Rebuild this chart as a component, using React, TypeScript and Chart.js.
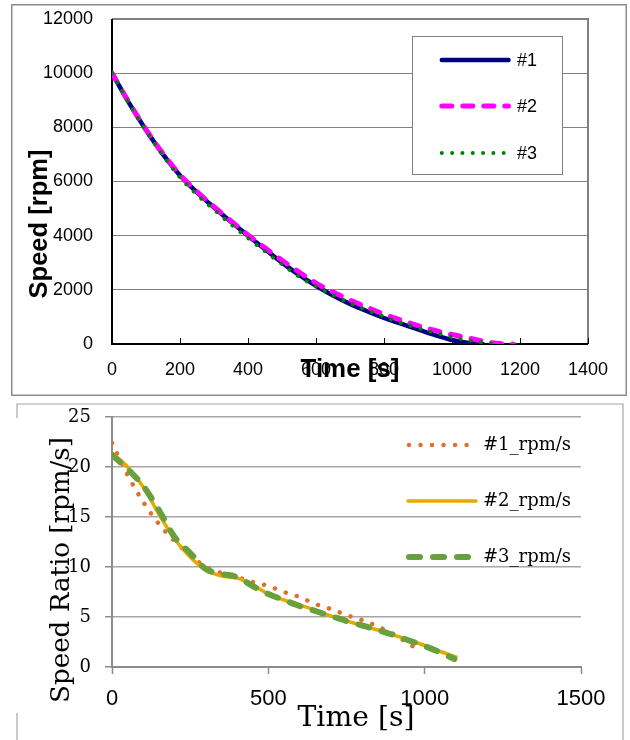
import React, { useEffect, useRef } from 'react';
import { Chart, registerables } from 'chart.js';

Chart.register(...registerables);

// ---------- Top chart: Speed [rpm] vs Time [s] ----------
const speedLabels = ['#1', '#2', '#3'];
const speedXTicks = [0, 200, 400, 600, 800, 1000, 1200, 1400];
const speedYTicks = [0, 2000, 4000, 6000, 8000, 10000, 12000];

const speedTimes1 = [0, 50, 100, 150, 200, 250, 300, 350, 400, 450, 500, 550, 600, 650, 700, 750, 800, 850, 900, 950, 1000, 1050, 1090];
const speedValues1 = [10000, 8900, 7900, 7000, 6225, 5600, 5040, 4510, 3995, 3495, 3005, 2550, 2150, 1790, 1480, 1210, 960, 750, 540, 330, 150, 35, 0];

const speedTimes2 = [0, 50, 100, 150, 200, 250, 300, 350, 400, 450, 500, 550, 600, 650, 700, 750, 800, 850, 900, 950, 1000, 1050, 1100, 1150, 1180];
const speedValues2 = [10000, 8920, 7920, 7030, 6250, 5630, 5070, 4540, 4030, 3550, 3090, 2660, 2250, 1920, 1625, 1360, 1100, 880, 680, 500, 350, 220, 80, 8, 0];

const speedTimes3 = [0, 50, 100, 150, 200, 250, 300, 350, 400, 450, 500, 550, 600, 650, 700, 750, 800, 850, 900, 950, 1000, 1050, 1100, 1141];
const speedValues3 = [10000, 8880, 7870, 6960, 6150, 5510, 4960, 4420, 3910, 3420, 2950, 2490, 2120, 1800, 1510, 1250, 1010, 780, 590, 420, 260, 130, 40, 0];

// ---------- Bottom chart: Speed Ratio [rpm/s] vs Time [s] ----------
const ratioLabels = ['#1_rpm/s', '#2_rpm/s', '#3_rpm/s'];
const ratioXTicks = [0, 500, 1000, 1500];
const ratioYTicks = [0, 5, 10, 15, 20, 25];

const ratioTimes1 = [0, 50, 100, 150, 200, 250, 300, 350, 400, 450, 500, 550, 600, 650, 700, 750, 800, 850, 900, 950, 990];
const ratioValues1 = [22.4, 19.2, 16.5, 14.3, 12.6, 11.2, 10.0, 9.4, 9.0, 8.5, 8.1, 7.5, 7.0, 6.3, 5.8, 5.2, 4.7, 4.05, 3.3, 2.3, 1.5];

const ratioTimes2 = [0, 50, 100, 150, 200, 250, 300, 350, 400, 450, 500, 550, 600, 650, 700, 750, 800, 850, 900, 950, 1000, 1050, 1100];
const ratioValues2 = [21.4, 20.0, 18.0, 15.3, 12.8, 11.0, 9.7, 9.1, 8.9, 8.2, 7.3, 6.7, 6.2, 5.7, 5.1, 4.6, 4.15, 3.7, 3.2, 2.7, 2.15, 1.55, 1.0];

const ratioTimes3 = [0, 50, 100, 150, 200, 250, 300, 350, 400, 450, 500, 550, 600, 650, 700, 750, 800, 850, 900, 950, 1000, 1050, 1095];
const ratioValues3 = [21.2, 19.8, 18.1, 15.7, 13.0, 11.4, 9.8, 9.3, 9.0, 8.1, 7.3, 6.7, 6.1, 5.6, 5.1, 4.6, 4.15, 3.7, 3.2, 2.65, 2.1, 1.45, 0.8];

// ---------- styles ----------
const SANS = "'Liberation Sans', Arial, sans-serif";
const SERIF = "'DejaVu Serif', serif";

const topStyles = [
  { color: '#000080', width: 4.5, dash: [] as number[] },
  { color: '#FF00FF', width: 5, dash: [10, 11] },
  { color: '#008000', width: 4, dash: [0.01, 10.3] },
];
const botStyles = [
  { color: '#E0702F', width: 4.5, dash: [0.01, 11.5] },
  { color: '#E6A900', width: 3.5, dash: [] as number[] },
  { color: '#68A03E', width: 6, dash: [11, 13] },
];

const zip = (xs: number[], ys: number[]) => xs.map((x, i) => ({ x, y: ys[i] }));

function fitFontSize(ctx: CanvasRenderingContext2D, text: string, weight: string, family: string, target: number) {
  ctx.font = `${weight} 100px ${family}`;
  const w = ctx.measureText(text).width;
  return (100 * target) / w;
}

function strokeSample(ctx: CanvasRenderingContext2D, st: { color: string; width: number; dash: number[] }, x1: number, x2: number, y: number) {
  ctx.save();
  ctx.strokeStyle = st.color;
  ctx.lineWidth = st.width;
  ctx.lineCap = 'round';
  ctx.setLineDash(st.dash);
  ctx.beginPath();
  ctx.moveTo(x1, y);
  ctx.lineTo(x2, y);
  ctx.stroke();
  ctx.restore();
}

const zeroPad = (s: any) => {
  s.paddingTop = 0;
  s.paddingBottom = 0;
  s.paddingLeft = 0;
  s.paddingRight = 0;
};

const topDecor = {
  id: 'topDecor',
  beforeDatasetsDraw(chart: any) {
    const ctx: CanvasRenderingContext2D = chart.ctx;
    const a = chart.chartArea;
    const xs = chart.scales.x;
    ctx.save();
    ctx.strokeStyle = '#8c8c8c';
    ctx.lineWidth = 1.5;
    ctx.strokeRect(11.75, 4.75, 614.5, 390.5);
    ctx.strokeStyle = '#808080';
    ctx.lineWidth = 2;
    ctx.beginPath();
    ctx.moveTo(a.left, a.top);
    ctx.lineTo(a.right, a.top);
    ctx.lineTo(a.right, a.bottom);
    ctx.stroke();
    ctx.strokeStyle = '#000';
    ctx.lineWidth = 1;
    for (const v of speedXTicks) {
      const px = Math.round(xs.getPixelForValue(v)) + 0.5;
      ctx.beginPath();
      ctx.moveTo(px, a.bottom - 6);
      ctx.lineTo(px, a.bottom);
      ctx.stroke();
    }
    ctx.lineWidth = 2;
    ctx.beginPath();
    ctx.moveTo(a.left, a.top);
    ctx.lineTo(a.left, a.bottom);
    ctx.lineTo(a.right, a.bottom);
    ctx.stroke();
    ctx.restore();
  },
  afterDatasetsDraw(chart: any) {
    const ctx: CanvasRenderingContext2D = chart.ctx;
    ctx.save();
    ctx.fillStyle = '#fff';
    ctx.fillRect(412, 36, 151, 139);
    ctx.strokeStyle = '#808080';
    ctx.lineWidth = 1;
    ctx.strokeRect(412.5, 36.5, 150, 138);
    const rows = [60, 106, 153];
    ctx.font = `18px ${SANS}`;
    ctx.textBaseline = 'middle';
    ctx.textAlign = 'left';
    speedLabels.forEach((lab, i) => {
      strokeSample(ctx, topStyles[i], 441.8, i === 2 ? 505 : 508.5, rows[i]);
      ctx.fillStyle = '#000';
      ctx.fillText(lab, 517, rows[i] + 1);
    });
    ctx.fillStyle = '#000';
    const ySize = fitFontSize(ctx, 'Speed [rpm]', 'bold', SANS, 149);
    ctx.font = `bold ${ySize}px ${SANS}`;
    ctx.textAlign = 'center';
    ctx.textBaseline = 'alphabetic';
    ctx.save();
    ctx.translate(47, 224);
    ctx.rotate(-Math.PI / 2);
    ctx.fillText('Speed [rpm]', 0, 0);
    ctx.restore();
    const xSize = fitFontSize(ctx, 'Time [s]', 'bold', SANS, 99);
    ctx.font = `bold ${xSize}px ${SANS}`;
    ctx.fillText('Time [s]', 350, 377);
    ctx.restore();
  },
};

const botDecor = {
  id: 'botDecor',
  beforeDatasetsDraw(chart: any) {
    const ctx: CanvasRenderingContext2D = chart.ctx;
    const h = chart.height;
    ctx.save();
    ctx.strokeStyle = '#a6a6a6';
    ctx.lineWidth = 1.2;
    ctx.beginPath();
    ctx.moveTo(17, 20);
    ctx.lineTo(17, 6);
    ctx.lineTo(623, 6);
    ctx.lineTo(623, h);
    ctx.moveTo(17, 315);
    ctx.lineTo(17, h);
    ctx.stroke();
    ctx.restore();
  },
  afterDatasetsDraw(chart: any) {
    const ctx: CanvasRenderingContext2D = chart.ctx;
    ctx.save();
    const rows = [47, 103, 159];
    ctx.font = `18px ${SERIF}`;
    ctx.textBaseline = 'middle';
    ctx.textAlign = 'left';
    ratioLabels.forEach((lab, i) => {
      const st = botStyles[i];
      const x2 = i === 0 ? 471 : i === 1 ? 476 : 470;
      strokeSample(ctx, st, i === 1 ? 408 : 409, x2, rows[i]);
      ctx.fillStyle = '#000';
      ctx.fillText(lab, 483, rows[i]);
    });
    ctx.fillStyle = '#000';
    ctx.textAlign = 'center';
    ctx.textBaseline = 'alphabetic';
    const ySize = fitFontSize(ctx, 'Speed Ratio [rpm/s]', 'normal', SERIF, 266);
    ctx.font = `${ySize}px ${SERIF}`;
    ctx.save();
    ctx.translate(69, 172);
    ctx.rotate(-Math.PI / 2);
    ctx.fillText('Speed Ratio [rpm/s]', 0, 0);
    ctx.restore();
    const xSize = fitFontSize(ctx, 'Time [s]', 'normal', SERIF, 117);
    ctx.font = `${xSize}px ${SERIF}`;
    ctx.fillText('Time [s]', 356, 328);
    ctx.restore();
  },
};

function lineDataset(label: string, xs: number[], ys: number[], st: { color: string; width: number; dash: number[] }, order: number) {
  return {
    label,
    data: zip(xs, ys),
    borderColor: st.color,
    backgroundColor: st.color,
    borderWidth: st.width,
    borderDash: st.dash,
    borderCapStyle: 'round' as const,
    borderJoinStyle: 'round' as const,
    pointRadius: 0,
    pointHoverRadius: 0,
    fill: false,
    cubicInterpolationMode: 'monotone' as const,
    order,
  };
}

function topConfig(): any {
  return {
    type: 'line',
    data: {
      datasets: [
        lineDataset(speedLabels[0], speedTimes1, speedValues1, topStyles[0], 3),
        lineDataset(speedLabels[1], speedTimes2, speedValues2, topStyles[1], 2),
        lineDataset(speedLabels[2], speedTimes3, speedValues3, topStyles[2], 1),
      ],
    },
    options: {
      responsive: false,
      animation: false,
      events: [],
      layout: { padding: { left: 0, top: 19, right: 42, bottom: 0 } },
      plugins: { legend: { display: false }, tooltip: { enabled: false } },
      scales: {
        x: {
          type: 'linear',
          min: 0,
          max: 1400,
          afterBuildTicks: (s: any) => { s.ticks = speedXTicks.map((v) => ({ value: v })); },
          afterFit: (s: any) => { s.height = 54; zeroPad(s); },
          grid: { display: false, drawTicks: false },
          border: { display: false },
          ticks: {
            autoSkip: false,
            maxRotation: 0,
            padding: 15,
            color: '#000',
            font: { family: SANS, size: 18 },
            callback: (v: any) => String(v),
          },
        },
        y: {
          type: 'linear',
          min: 0,
          max: 12000,
          afterBuildTicks: (s: any) => { s.ticks = speedYTicks.map((v) => ({ value: v })); },
          afterFit: (s: any) => { s.width = 112; zeroPad(s); },
          grid: { color: '#808080', lineWidth: 1, drawTicks: false },
          border: { display: false },
          ticks: {
            padding: 19,
            color: '#000',
            font: { family: SANS, size: 18 },
            callback: (v: any) => String(v),
          },
        },
      },
    },
    plugins: [topDecor],
  };
}

function botConfig(): any {
  return {
    type: 'line',
    data: {
      datasets: [
        lineDataset(ratioLabels[0], ratioTimes1, ratioValues1, botStyles[0], 3),
        lineDataset(ratioLabels[1], ratioTimes2, ratioValues2, botStyles[1], 2),
        lineDataset(ratioLabels[2], ratioTimes3, ratioValues3, botStyles[2], 1),
      ],
    },
    options: {
      responsive: false,
      animation: false,
      events: [],
      layout: { padding: { left: 0, top: 19, right: 49, bottom: 0 } },
      plugins: { legend: { display: false }, tooltip: { enabled: false } },
      scales: {
        x: {
          type: 'linear',
          min: 0,
          max: 1500,
          afterBuildTicks: (s: any) => { s.ticks = ratioXTicks.map((v) => ({ value: v })); },
          afterFit: (s: any) => { s.height = 73; zeroPad(s); },
          grid: { drawOnChartArea: false, drawTicks: true, tickLength: 7, tickColor: '#8c8c8c', tickWidth: 1.5 },
          border: { color: '#8c8c8c', width: 2 },
          ticks: {
            autoSkip: false,
            maxRotation: 0,
            padding: 12,
            color: '#000',
            font: { family: SANS, size: 22 },
            callback: (v: any) => String(v),
          },
        },
        y: {
          type: 'linear',
          min: 0,
          max: 25,
          afterBuildTicks: (s: any) => { s.ticks = ratioYTicks.map((v) => ({ value: v })); },
          afterFit: (s: any) => { s.width = 112; zeroPad(s); },
          grid: { color: '#a6a6a6', lineWidth: 1.5, drawTicks: true, tickLength: 7, tickColor: '#8c8c8c', tickWidth: 1.5 },
          border: { color: '#8c8c8c', width: 2 },
          ticks: {
            padding: 14,
            color: '#000',
            font: { family: SERIF, size: 18 },
            callback: (v: any) => String(v),
          },
        },
      },
    },
    plugins: [botDecor],
  };
}

export default function App() {
  const topRef = useRef<HTMLCanvasElement>(null);
  const botRef = useRef<HTMLCanvasElement>(null);

  useEffect(() => {
    const c1 = new Chart(topRef.current as HTMLCanvasElement, topConfig());
    const c2 = new Chart(botRef.current as HTMLCanvasElement, botConfig());
    return () => {
      c1.destroy();
      c2.destroy();
    };
  }, []);

  return (
    <div style={{ position: 'fixed', left: 0, top: 0, width: 630, height: 740, background: '#fff', overflow: 'hidden' }}>
      <canvas
        ref={topRef}
        width={630}
        height={398}
        style={{ position: 'absolute', left: 0, top: 0, width: 630, height: 398, display: 'block' }}
      />
      <canvas
        ref={botRef}
        width={630}
        height={342}
        style={{ position: 'absolute', left: 0, top: 398, width: 630, height: 342, display: 'block' }}
      />
    </div>
  );
}
